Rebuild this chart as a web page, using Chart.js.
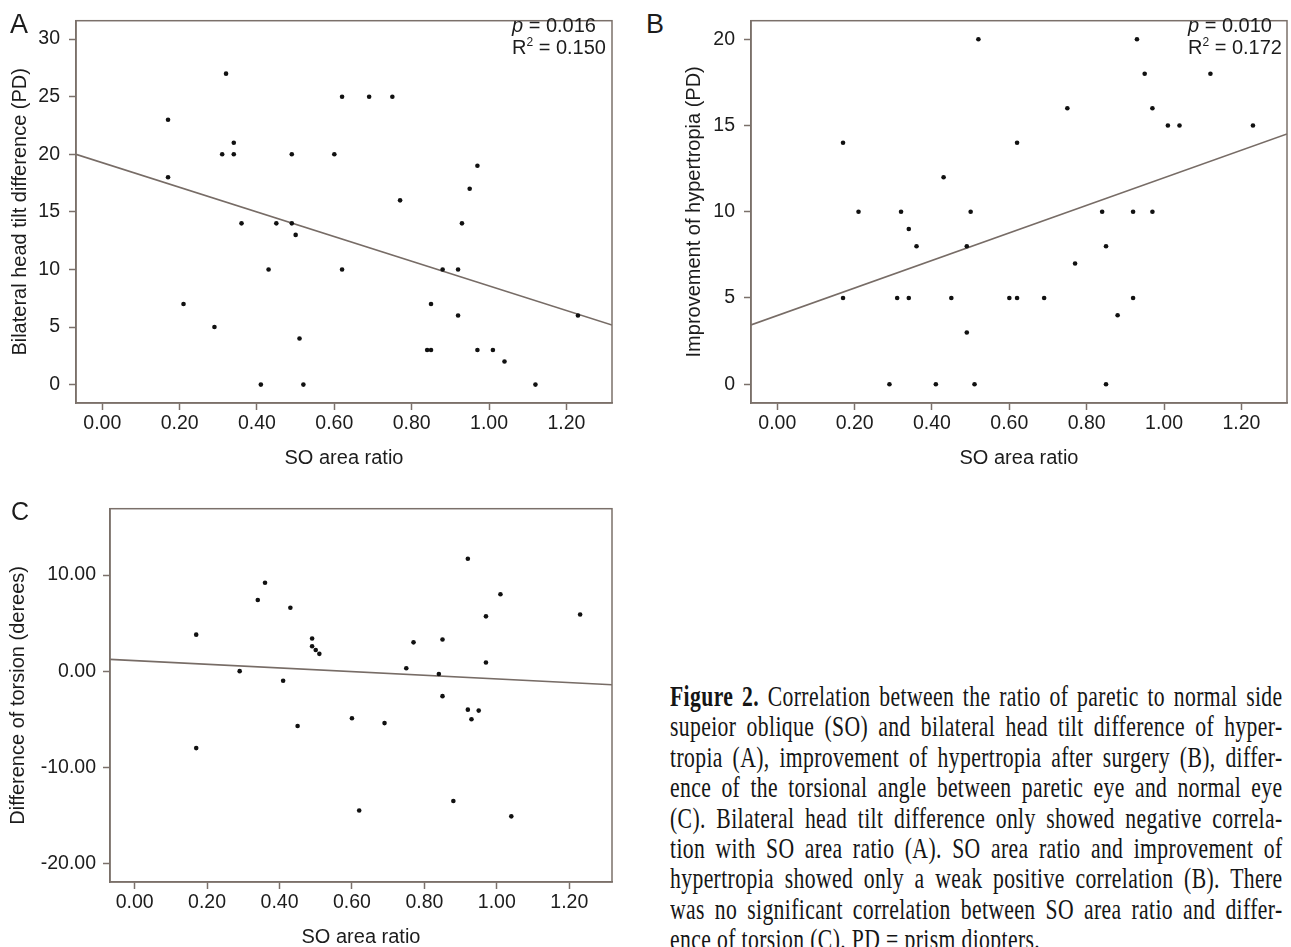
<!DOCTYPE html>
<html>
<head>
<meta charset="utf-8">
<script src="https://cdn.jsdelivr.net/npm/chart.js@4.4.1/dist/chart.umd.min.js"></script>
<style>
html,body{margin:0;padding:0;background:#fff;}
body{width:1291px;height:947px;position:relative;overflow:hidden;font-family:"Liberation Sans",Arial,sans-serif;color:#1c1c1c;}
canvas{position:absolute;}
.letter{position:absolute;font-size:27px;line-height:27px;}
.stat{position:absolute;font-size:20px;line-height:22px;white-space:nowrap;}
.stat sup{font-size:12px;line-height:0;vertical-align:8px;}
#caption{position:absolute;left:670px;top:682px;width:613px;font-family:"Liberation Serif","Times New Roman",serif;color:#151515;}
#caption .ln{width:806px;height:30.4px;line-height:30.4px;font-size:28.5px;letter-spacing:0.5px;white-space:nowrap;
  text-align:justify;text-align-last:justify;transform:scaleX(0.76);transform-origin:0 0;}
#caption .ln.last{text-align-last:left;}
</style>
</head>
<body>
<canvas id="cA" width="640" height="480" style="left:0;top:0;"></canvas>
<canvas id="cB" width="618" height="480" style="left:673px;top:0;"></canvas>
<canvas id="cC" width="640" height="457" style="left:0;top:490px;"></canvas>

<div class="letter" style="left:10px;top:11px;">A</div>
<div class="letter" style="left:646px;top:11px;">B</div>
<div class="letter" style="left:11px;top:499px;font-size:25px;line-height:25px;">C</div>

<div class="stat" style="left:512px;top:14px;"><i>p</i> = 0.016</div>
<div class="stat" style="left:512px;top:36px;">R<sup>2</sup> = 0.150</div>
<div class="stat" style="left:1188px;top:14px;"><i>p</i> = 0.010</div>
<div class="stat" style="left:1188px;top:36px;">R<sup>2</sup> = 0.172</div>

<div id="caption">
<div class="ln"><b>Figure 2.</b> Correlation between the ratio of paretic to normal side</div>
<div class="ln">supeior oblique (SO) and bilateral head tilt difference of hyper-</div>
<div class="ln">tropia (A), improvement of hypertropia after surgery (B), differ-</div>
<div class="ln">ence of the torsional angle between paretic eye and normal eye</div>
<div class="ln">(C). Bilateral head tilt difference only showed negative correla-</div>
<div class="ln">tion with SO area ratio (A). SO area ratio and improvement of</div>
<div class="ln">hypertropia showed only a weak positive correlation (B). There</div>
<div class="ln">was no significant correlation between SO area ratio and differ-</div>
<div class="ln last">ence of torsion (C). PD = prism diopters.</div>
</div>

<script>
// ---------- data ----------
const xTicks = [0, 0.2, 0.4, 0.6, 0.8, 1.0, 1.2];
const yTicksA = [0, 5, 10, 15, 20, 25, 30];
const yTicksB = [0, 5, 10, 15, 20];
const yTicksC = [-20, -10, 0, 10];

// Panel A: SO area ratio vs bilateral head tilt difference (PD)
const soRatioA = [0.32,0.62,0.69,0.75,0.17,0.34,0.31,0.34,0.49,0.60,0.97,0.17,0.95,0.77,0.36,0.45,0.49,0.93,0.50,
                  0.43,0.62,0.88,0.92,0.21,0.85,0.92,1.23,0.29,0.51,0.84,0.85,0.97,1.01,1.04,0.41,0.52,1.12];
const headTiltDiff = [27,25,25,25,23,21,20,20,20,20,19,18,17,16,14,14,14,14,13,
                      10,10,10,10,7,7,6,6,5,4,3,3,3,3,2,0,0,0];
const fitA = { intercept: 19.27, slope: -10.7 };

// Panel B: SO area ratio vs improvement of hypertropia (PD)
const soRatioB = [0.52,0.93,0.95,1.12,0.75,0.97,1.01,1.04,1.23,0.17,0.62,0.43,0.21,0.32,0.50,0.84,0.92,0.97,0.34,
                  0.36,0.49,0.85,0.77,0.17,0.31,0.34,0.45,0.60,0.62,0.69,0.92,0.88,0.49,0.29,0.41,0.51,0.85];
const hypertropiaImprovement = [20,20,18,18,16,16,15,15,15,14,14,12,10,10,10,10,10,10,9,
                                8,8,8,7,5,5,5,5,5,5,5,5,4,3,0,0,0,0];
const fitB = { intercept: 3.98, slope: 7.99 };

// Panel C: SO area ratio vs difference of torsion (degrees)
const soRatioC = [0.36,0.34,0.43,0.17,0.49,0.49,0.50,0.51,0.29,0.41,0.60,0.45,0.17,0.62,0.92,
                  1.01,1.23,0.97,0.77,0.85,0.75,0.97,0.84,0.85,0.92,0.95,0.93,0.69,0.88,1.04];
const torsionDiff = [9.2,7.4,6.6,3.8,3.4,2.6,2.2,1.8,0.0,-1.0,-4.9,-5.7,-8.0,-14.5,11.7,
                     8.0,5.9,5.7,3.0,3.3,0.3,0.9,-0.3,-2.6,-4.0,-4.1,-5.0,-5.4,-13.5,-15.1];
const fitC = { intercept: 1.1, slope: -1.91 };

// ---------- style ----------
const FONT = '"Liberation Sans", Arial, sans-serif';
const FRAME = '#7b706a';
const LINE = '#776c66';
const TEXT = '#1c1c1c';
const X_MIN = -0.068, X_MAX = 1.318;

const framePlugin = {
  id: 'frame',
  afterDatasetsDraw(chart) {
    const { ctx, chartArea: a } = chart;
    ctx.save();
    ctx.strokeStyle = FRAME;
    ctx.lineWidth = 1.5;
    ctx.strokeRect(a.left, a.top, a.right - a.left, a.bottom - a.top);
    ctx.restore();
  }
};

function panel(id, xs, ys, fit, yMin, yMax, yTicks, yFmt, yTitle, g) {
  const pts = xs.map((x, i) => ({ x: x, y: ys[i] }));
  const fitLine = [X_MIN, X_MAX].map(x => ({ x: x, y: fit.intercept + fit.slope * x }));
  new Chart(document.getElementById(id), {
    type: 'scatter',
    data: {
      datasets: [
        { data: pts, pointRadius: 2.3, pointBackgroundColor: '#111', pointBorderWidth: 0, order: 1 },
        { data: fitLine, showLine: true, pointRadius: 0, borderColor: LINE, borderWidth: 1.6, order: 2 }
      ]
    },
    options: {
      responsive: false, animation: false, devicePixelRatio: 1,
      layout: { padding: { top: g.top, right: g.right, left: 0, bottom: 0 } },
      plugins: { legend: { display: false }, tooltip: { enabled: false } },
      scales: {
        x: {
          type: 'linear', position: 'bottom', min: X_MIN, max: X_MAX,
          afterBuildTicks: s => { s.ticks = xTicks.map(v => ({ value: v })); },
          afterFit: s => { s.height = g.xh; },
          ticks: { autoSkip: false, maxRotation: 0, minRotation: 0, padding: 1.5, color: TEXT,
                   font: { family: FONT, size: 19.5, lineHeight: 1.2 }, callback: v => Number(v).toFixed(2) },
          grid: { drawOnChartArea: false, drawTicks: true, tickLength: 7, tickColor: FRAME, tickWidth: 1.5 },
          border: { display: true, color: FRAME, width: 1.5 },
          title: { display: true, text: 'SO area ratio', color: TEXT,
                   font: { family: FONT, size: 20, lineHeight: 1 }, padding: { top: 0, bottom: g.xtp } }
        },
        y: {
          type: 'linear', position: 'left', min: yMin, max: yMax,
          afterBuildTicks: s => { s.ticks = yTicks.map(v => ({ value: v })); },
          afterFit: s => { s.width = g.yw; },
          ticks: { autoSkip: false, padding: g.ypad, color: TEXT,
                   font: { family: FONT, size: 19.5, lineHeight: 1.2 }, callback: yFmt },
          grid: { drawOnChartArea: false, drawTicks: true, tickLength: 7, tickColor: FRAME, tickWidth: 1.5 },
          border: { display: true, color: FRAME, width: 1.5 },
          title: { display: true, text: yTitle, color: TEXT,
                   font: { family: FONT, size: 20, lineHeight: 1 }, padding: { top: g.ytp, bottom: 0 } }
        }
      }
    },
    plugins: [framePlugin]
  });
}

const intFmt = v => String(Math.round(v));
const decFmt = v => Number(v).toFixed(2);

panel('cA', soRatioA, headTiltDiff, fitA, -1.6, 31.6, yTicksA, intFmt,
      'Bilateral head tilt difference (PD)', { top: 12, right: 28, yw: 76, xh: 77, xtp: 12, ytp: 10, ypad: 9 });
panel('cB', soRatioB, hypertropiaImprovement, fitB, -1.09, 21.08, yTicksB, intFmt,
      'Improvement of hypertropia (PD)', { top: 12, right: 4, yw: 78, xh: 77, xtp: 12, ytp: 11, ypad: 9 });
panel('cC', soRatioC, torsionDiff, fitC, -21.93, 16.9, yTicksC, decFmt,
      'Difference of torsion (derees)', { top: 13, right: 28, yw: 110, xh: 65, xtp: 0, ytp: 8, ypad: 7 });
</script>
</body>
</html>
